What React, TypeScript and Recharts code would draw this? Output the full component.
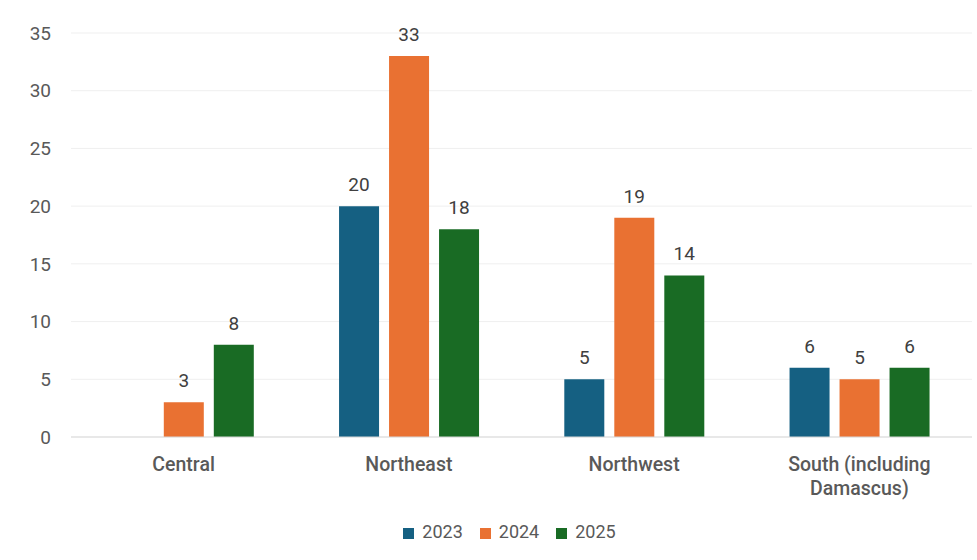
import { BarChart, Bar, XAxis, YAxis, CartesianGrid, Legend, LabelList, Text } from "recharts";

const regions=["Central","Northeast","Northwest","South (including Damascus)"];
const values2023=[null,20,5,6];
const values2024=[3,33,19,5];
const values2025=[8,18,14,6];
const yTicks=[0,5,10,15,20,25,30,35];

const data=regions.map((r,i)=>({
  region: r,
  y2023: values2023[i],
  y2024: values2024[i],
  y2025: values2025[i],
}));

const font="Roboto, 'Noto Sans', sans-serif";
const tickColor="#595959";
const labelColor="#404040";

const CategoryTick=(props:any)=>{
  const { x,y,payload }=props;
  return (
    <Text
      x={x}
      y={y}
      width={180}
      textAnchor="middle"
      verticalAnchor="start"
      fill={tickColor}
      fontSize={19.5}
      fontWeight={500}
      fontFamily={font}
      lineHeight={24}
    >
      {payload.value}
    </Text>
  );
};

export default function App(){
  return (
    <div style={{ position:"absolute",top:0,left:0,background:"#fff" }}>
      <BarChart
        width={977}
        height={560}
        data={data}
        margin={{ top:33,right:5,left:0,bottom:0 }}
        barCategoryGap="19%"
        barGap={10}
      >
        <CartesianGrid vertical={false} stroke="#efefef" />
        <XAxis
          dataKey="region"
          height={70}
          axisLine={{ stroke:"#d9d9d9" }}
          tickLine={false}
          tickMargin={14}
          tick={<CategoryTick />}
          interval={0}
        />
        <YAxis
          width={71}
          domain={[0,35]}
          ticks={yTicks}
          axisLine={false}
          tickLine={false}
          tickMargin={14}
          tick={{ fill:tickColor,fontSize:19,fontFamily:font }}
        />
        <Legend
          verticalAlign="bottom"
          height={39}
          iconType="square"
          iconSize={11}
          wrapperStyle={{ paddingTop:14,left:32,fontFamily:font,fontSize:18 }}
          formatter={(v)=><span style={{ color:tickColor,marginLeft:4,marginRight:7 }}>{v}</span>}
        />
        <Bar dataKey="y2023" name="2023" fill="#156082" isAnimationActive={false}>
          <LabelList dataKey="y2023" position="top" offset={15} fill={labelColor} fontSize={19} fontFamily={font} />
        </Bar>
        <Bar dataKey="y2024" name="2024" fill="#e97132" isAnimationActive={false}>
          <LabelList dataKey="y2024" position="top" offset={15} fill={labelColor} fontSize={19} fontFamily={font} />
        </Bar>
        <Bar dataKey="y2025" name="2025" fill="#196b24" isAnimationActive={false}>
          <LabelList dataKey="y2025" position="top" offset={15} fill={labelColor} fontSize={19} fontFamily={font} />
        </Bar>
      </BarChart>
    </div>
  );
}
